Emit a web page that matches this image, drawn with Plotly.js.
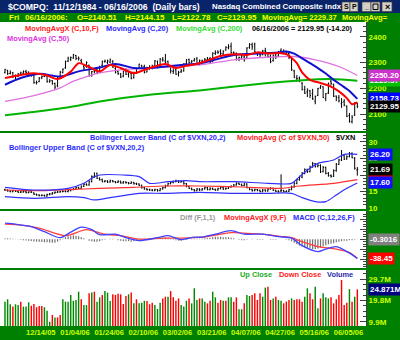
<!DOCTYPE html>
<html><head><meta charset="utf-8">
<script src="https://cdn.plot.ly/plotly-3.0.1.min.js"></script>
<style>html,body{margin:0;padding:0;background:#008000;}#chart{width:400px;height:340px;}</style>
</head><body><div id="chart"></div>
<script>
// ---------- DATA ----------
const dateTickIdx  = [8, 21, 34, 47, 60, 73, 86, 99, 112, 125];
const dateTickText = ['12/14/05','01/04/06','01/24/06','02/10/06','03/02/06','03/21/06','04/07/06','04/27/06','05/16/06','06/05/06'];

const priceOpen = [2262,2270,2258,2261,2249,2247,2257,2259,2265,2263,
2254,2250,2222,2226,2241,2246,2248,2226,2230,2219,
2210,2244,2262,2280,2306,2313,2318,2328,2316,2308,
2285,2285,2290,2250,2268,2272,2268,2290,2304,2300,
2302,2305,2278,2265,2256,2248,2268,2255,2258,2242,
2262,2279,2288,2285,2264,2280,2278,2290,2305,2286,
2310,2306,2305,2282,2266,2272,2256,2264,2268,2296,
2312,2302,2308,2315,2296,2306,2308,2312,2316,2304,
2336,2342,2345,2334,2350,2358,2364,2340,2336,2314,
2318,2322,2318,2360,2370,2372,2338,2334,2332,2346,
2338,2325,2308,2330,2326,2348,2344,2342,2336,2318,
2268,2240,2240,2220,2196,2186,2190,2180,2150,2172,
2202,2206,2160,2182,2228,2216,2170,2164,2140,2148,
2130,2094,2070,2096,2140.51];
const priceHigh = [2276,2272,2270,2264,2254,2260,2265,2270,2272,2266,
2258,2254,2230,2244,2250,2253,2254,2236,2232,2222,
2248,2268,2278,2308,2323,2324,2334,2330,2324,2315,
2293,2305,2292,2268,2277,2280,2288,2308,2312,2312,
2316,2310,2284,2270,2260,2268,2278,2268,2262,2265,
2280,2296,2292,2292,2284,2290,2292,2310,2308,2318,
2322,2334,2308,2286,2278,2278,2268,2276,2298,2314,
2316,2310,2318,2322,2312,2312,2318,2322,2322,2340,
2348,2348,2352,2348,2364,2372,2378,2344,2340,2324,
2332,2330,2360,2376,2378,2378,2342,2340,2350,2358,
2340,2332,2332,2336,2346,2356,2352,2346,2340,2320,
2272,2252,2246,2224,2210,2200,2194,2198,2172,2202,
2212,2208,2182,2222,2240,2218,2172,2174,2162,2158,
2134,2104,2096,2146,2144.15];
const priceLow = [2258,2252,2254,2240,2232,2244,2251,2255,2256,2246,
2245,2218,2215,2224,2236,2244,2222,2222,2214,2196,
2204,2242,2258,2276,2302,2306,2315,2310,2308,2296,
2270,2280,2246,2245,2258,2255,2264,2286,2300,2295,
2298,2280,2258,2252,2240,2243,2252,2242,2235,2238,
2256,2276,2275,2258,2262,2272,2274,2288,2278,2284,
2304,2298,2282,2258,2256,2253,2246,2260,2265,2290,
2296,2298,2304,2292,2290,2300,2304,2308,2298,2302,
2330,2334,2330,2326,2346,2352,2335,2330,2308,2306,
2312,2304,2316,2354,2350,2338,2326,2322,2328,2324,
2318,2298,2304,2314,2322,2338,2338,2332,2314,2268,
2240,2226,2224,2192,2178,2166,2162,2155,2138,2170,
2198,2162,2150,2178,2212,2166,2150,2145,2124,2130,
2088,2066,2063,2092,2122.78];
const priceClose = [2273,2257,2260,2247,2245,2256,2260,2265,2262,2253,
2252,2222,2222,2240,2246,2249,2227,2229,2219,2205,
2244,2263,2274,2305,2318,2320,2331,2317,2317,2302,
2279,2301,2248,2265,2266,2260,2283,2305,2306,2306,
2311,2282,2263,2258,2244,2266,2255,2262,2239,2262,
2276,2294,2282,2262,2279,2279,2287,2307,2281,2314,
2311,2302,2286,2268,2268,2255,2262,2267,2295,2311,
2300,2306,2314,2296,2309,2306,2313,2315,2302,2337,
2340,2340,2336,2345,2360,2362,2339,2337,2314,2320,
2326,2311,2357,2371,2362,2342,2333,2330,2345,2344,
2323,2304,2329,2324,2342,2343,2344,2339,2320,2272,
2243,2238,2229,2195,2181,2193,2172,2159,2168,2199,
2210,2164,2179,2220,2219,2169,2163,2151,2145,2135,
2091,2072,2087,2144,2129.95];

// moving averages at selected bars
const ma10Idx = [0,6,11,16,20,25,28,32,36,40,44,49,53,57,61,65,69,74,78,82,87,92,96,100,105,107,109,111,113,116,120,124,127,130,132,134];
const ma10    = [2240,2252,2259,2250,2236,2265,2298,2283,2266,2291,2279,2259,2272,2285,2295,2279,2288,2298,2312,2326,2333,2330,2340,2336,2337,2333,2318,2298,2262,2233,2221,2207,2188,2162,2138,2145];
const ma20Idx = [0,6,13,21,28,36,42,49,55,61,67,74,80,87,93,99,104,107,110,113,116,119,122,125,128,131,134];
const ma20    = [2214,2240,2257,2246,2266,2281,2295,2279,2279,2285,2291,2297,2312,2330,2334,2337,2340,2343,2335,2317,2298,2279,2258,2233,2212,2190,2158.73];
const ma50Idx = [0,11,21,26,30,36,44,55,65,74,87,100,110,118,127,134];
const ma50    = [2149,2172,2202,2228,2242,2260,2272,2279,2285,2291,2311,2321,2324,2311,2285,2250.20];
const ma200Idx = [0,23,36,55,74,100,112,124,134];
const ma200    = [2095,2124,2149,2175,2192,2221,2231,2236,2229.37];
const ma10Last = 2145.09;

const vxnOpen = [15.6,15.4,15.2,15.0,15.3,15.1,14.8,14.9,15.0,14.7,
14.9,14.6,14.2,14.0,13.8,13.9,13.7,14.1,14.3,14.6,
14.8,14.9,15.0,15.1,15.0,15.3,15.6,15.8,16.2,16.0,
16.6,17.2,17.0,18.0,19.5,20.5,19.0,18.6,18.0,18.2,
17.9,18.3,18.0,17.8,18.1,17.6,17.9,17.7,17.5,17.8,
17.4,17.3,16.9,16.2,15.8,15.6,15.5,15.4,15.6,15.3,
15.8,16.2,16.8,17.4,17.8,18.0,18.2,17.9,18.0,17.4,
16.6,16.0,15.6,15.3,15.8,15.5,15.8,16.2,15.6,16.0,
15.7,15.5,15.9,16.3,15.8,16.0,16.4,16.6,17.0,17.5,
17.2,16.8,17.3,16.2,15.7,15.3,15.6,15.4,15.0,15.5,
15.2,15.8,16.0,15.4,15.1,15.2,15.4,15.0,15.1,15.6,
16.4,17.5,18.6,19.4,20.5,21.6,21.0,22.4,23.4,22.6,
22.9,21.0,22.3,20.5,19.8,19.6,21.3,23.2,24.5,25.8,
24.8,25.5,26.5,25.0,21.5];
const vxnHigh = [15.9,15.7,15.5,15.6,15.5,15.3,15.2,15.3,15.2,15.1,
15.2,14.8,14.4,14.2,14.2,14.1,14.4,14.6,14.9,15.1,
15.2,15.3,15.4,15.4,15.6,15.9,16.1,16.5,16.5,16.9,
17.6,17.5,18.4,19.9,20.8,20.7,19.3,18.9,18.5,18.4,
18.6,18.5,18.2,18.4,18.3,18.2,18.1,17.9,18.1,17.9,
17.7,17.5,17.1,16.4,16.0,15.9,15.8,15.9,15.8,16.1,
16.5,17.1,17.7,18.1,18.3,18.6,18.4,18.3,18.2,17.6,
16.8,16.2,15.8,16.1,16.0,16.1,16.5,16.4,16.3,16.2,
15.9,16.2,16.6,16.5,16.3,16.7,16.9,17.3,17.8,17.7,
17.4,17.6,17.5,16.4,15.9,15.9,15.8,15.6,15.8,15.7,
16.1,16.3,16.2,15.6,15.4,20.2,15.5,15.4,15.9,16.8,
17.9,18.9,19.8,20.9,22.0,21.9,22.8,23.9,23.6,23.4,
23.2,22.7,22.5,20.9,20.2,21.7,23.6,24.9,27.5,26.0,
25.9,26.9,26.8,25.4,22.4];
const vxnLow = [15.2,15.0,14.8,14.8,14.9,14.6,14.6,14.7,14.5,14.5,
14.6,14.0,13.8,13.6,13.6,13.5,13.5,13.9,14.1,14.4,
14.6,14.7,14.8,14.8,14.8,15.1,15.4,15.6,15.8,15.8,
16.4,16.8,16.8,17.8,19.2,18.8,18.3,17.8,17.8,17.6,
17.7,17.8,17.5,17.6,17.4,17.4,17.4,17.2,17.3,17.1,
17.0,16.7,15.9,15.6,15.3,15.2,15.1,15.1,15.0,15.1,
15.6,16.0,16.6,17.2,17.5,17.8,17.6,17.7,17.1,16.3,
15.8,15.4,15.0,15.1,15.2,15.3,15.6,15.4,15.4,15.5,
15.2,15.3,15.7,15.5,15.6,15.8,16.2,16.4,16.8,17.0,
16.6,16.6,16.0,15.4,15.0,15.1,15.1,14.8,14.8,15.0,
15.0,15.6,15.2,14.9,14.7,14.8,14.8,14.8,14.9,15.4,
16.2,17.2,18.3,19.0,20.2,20.6,20.8,22.2,22.2,22.3,
20.6,20.8,20.2,19.5,19.2,19.4,21.0,23.0,24.2,24.5,
24.6,25.3,25.0,21.6,19.8];
const vxnClose = [15.4,15.2,15.0,15.3,15.1,14.8,14.9,15.0,14.7,14.9,
14.8,14.2,14.0,13.8,13.9,13.7,14.1,14.3,14.6,14.8,
14.9,15.0,15.1,15.0,15.3,15.6,15.8,16.2,16.0,16.6,
17.2,17.0,18.0,19.5,19.8,19.0,18.6,18.0,18.2,17.9,
18.3,18.0,17.8,18.1,17.6,17.9,17.7,17.5,17.8,17.4,
17.3,16.9,16.2,15.8,15.6,15.5,15.4,15.6,15.3,15.8,
16.2,16.8,17.4,17.8,18.0,18.2,17.9,18.0,17.4,16.6,
16.0,15.6,15.3,15.8,15.5,15.8,16.2,15.6,16.0,15.7,
15.5,15.9,16.3,15.8,16.0,16.4,16.6,17.0,17.5,17.2,
16.8,17.3,16.2,15.7,15.3,15.6,15.4,15.0,15.5,15.2,
15.8,16.0,15.4,15.1,15.0,15.4,15.0,15.1,15.6,16.4,
17.5,18.6,19.4,20.5,21.6,21.0,22.4,23.4,22.6,22.9,
21.0,22.3,20.5,19.8,19.6,21.3,23.2,24.5,25.8,24.8,
25.5,26.5,25.2,22.0,21.69];

const bbUpIdx = [0,11,24,30,33,36,45,51,55,62,69,74,87,100,109,112,116,119,125,129,134];
const bbUp    = [16.3,15.5,16.0,17.5,19.0,20.0,20.0,19.5,17.5,18.0,18.3,18.0,18.0,17.5,17.5,19.5,22.0,23.5,24.5,26.2,26.20];
const bbLoIdx = [0,11,24,30,34,40,45,51,61,74,87,100,109,113,118,122,126,130,134];
const bbLo    = [13.5,13.0,13.5,13.2,12.5,13.2,13.8,14.5,14.5,14.8,14.5,14.5,14.5,13.2,12.0,12.0,14.0,16.0,17.60];
const vxnMa50Idx = [0,11,24,36,49,61,74,90,105,112,125,134];
const vxnMa50    = [15.5,15.3,15.6,16.0,16.3,16.7,16.7,16.4,16.0,16.7,17.5,18.6];

const macdIdx = [0,4,10,15,21,25,29,33,36,42,46,51,58,62,67,72,75,80,86,91,98,104,109,113,119,122,126,131,134];
const macd    = [32,30,25,15,3,14,24,19,9,10,3,-3,3,7,-1,4,4,10,17,10,10,5,2,-13,-25,-20,-15,-28,-38.75];
const signalIdx = [0,6,13,23,31,38,44,51,60,67,75,86,91,98,104,109,113,119,126,131,134];
const signal    = [30,28,22,7,19,10,7,0,2,2,4,13,12,10,6,3,-5,-15,-20,-27,-38.45];
const macdDiff = [1.5,1.8,1.2,0.8,0.5,0.2,-1,-2,-2.5,-3,
-3.5,-4.5,-5,-5,-5.5,-6,-6,-6.5,-7,-7,
-5,-2,1,4,6,7,8,7,6,4,
2,0,-3,-4,-5,-5,-4,-2,-1,0,
1,1,0,-2,-3,-4,-4,-4,-5,-4,
-3,-2,-1,0,1,2,2,3,3,2,
3,4,3,1,-1,-2,-3,-3,-2,-1,
0,1,1,1,1,1,2,2,3,4,
5,5,5,4,4,4,3,2,0,-1,
-2,-2,-1,0,1,0,-1,-1,-1,0,
0,-1,-1,-1,0,0,0,-1,-2,-4,
-7,-10,-13,-15,-17,-18,-19,-20,-20,-19,
-17,-14,-12,-10,-9,-8,-6,-5,-4,-3,
-3,-2,-2,-1,-0.3016];

// volume in millions, and direction of each day's close (u = up close, d = down close)
const volume = [19.2,20.3,18.0,16.9,18.0,17.6,19.2,16.9,16.9,18.9,
17.3,18.1,16.6,17.2,17.2,16.6,15.0,9.9,13.0,11.9,
11.9,13.0,20.3,19.2,19.2,22.3,19.6,20.0,23.8,20.3,
17.6,17.6,23.1,23.4,23.8,19.2,21.2,22.3,24.1,23.4,
19.5,22.6,22.3,22.9,22.6,18.1,21.8,22.6,23.4,18.4,
20.3,18.4,18.7,19.6,19.5,18.0,18.7,17.6,15.8,18.7,
20.7,21.5,21.5,24.1,21.2,19.6,20.7,17.6,16.9,19.6,
20.7,18.4,25.4,20.0,20.7,20.7,19.2,18.4,19.6,23.8,
21.2,18.7,20.0,19.6,19.6,21.2,21.2,19.2,21.2,15.7,
15.7,18.4,22.3,21.8,22.3,23.1,20.0,23.1,21.5,25.7,
26.1,20.0,20.7,21.5,20.0,19.6,18.4,19.2,20.0,20.7,
20.0,20.3,20.3,19.2,21.5,25.4,23.1,20.3,26.1,16.1,
20.7,23.1,21.2,20.7,21.2,18.4,20.3,22.3,29.2,17.6,
18.7,25.0,19.2,21.5,24.871];
const volDir = 'uuuduuduuu' + 'ddddduuudu' + 'dduuuuuuud' + 'uududuuduu' + 'uddddddudu' +
               'duuuddduuu' + 'ddudddduuu' + 'duuud' +
               'uudduuddud' + 'uudduuduud' + 'ddduuddudu' + 'uddduddddu' + 'udduuduuud' + 'ddddddudud';

// ---------- DRAWING ----------
const FONT = 'Liberation Sans, Arial, sans-serif';
const AXC = '#ccff00';
const PR = 366, PT = 22, PB = 326;
const px = x => x / PR;
const py = y => (PB - y) / (PB - PT);

const barIdx = priceClose.map((_, i) => i);
const traces = [];
const blackBar = {line: {color: '#000000', width: 1}};
traces.push({type: 'ohlc', x: barIdx, open: priceOpen, high: priceHigh, low: priceLow, close: priceClose,
  xaxis: 'x', yaxis: 'y', increasing: blackBar, decreasing: blackBar, tickwidth: 0.35, hoverinfo: 'skip'});
function line(xs, ys, yax, color, width) {
  return {type: 'scatter', mode: 'lines', x: xs, y: ys, xaxis: 'x', yaxis: yax,
    line: {color: color, width: width, shape: 'spline', smoothing: 0.8}, hoverinfo: 'skip'};
}
traces.push(line(ma200Idx, ma200, 'y', '#00b400', 2));
traces.push(line(ma50Idx, ma50, 'y', '#e070e0', 1.3));
traces.push(line(ma20Idx, ma20, 'y', '#1010d0', 2));
traces.push(line(ma10Idx, ma10, 'y', '#ff0000', 2));

traces.push({type: 'ohlc', x: barIdx, open: vxnOpen, high: vxnHigh, low: vxnLow, close: vxnClose,
  xaxis: 'x', yaxis: 'y2', increasing: blackBar, decreasing: blackBar, tickwidth: 0.35, hoverinfo: 'skip'});
traces.push(line(vxnMa50Idx, vxnMa50, 'y2', '#ff3030', 1.2));
traces.push(line(bbUpIdx, bbUp, 'y2', '#3030ff', 1.2));
traces.push(line(bbLoIdx, bbLo, 'y2', '#3030ff', 1.2));

traces.push({type: 'bar', x: barIdx, y: macdDiff, xaxis: 'x', yaxis: 'y3', width: 0.45,
  marker: {color: '#707070', line: {width: 0}}, hoverinfo: 'skip'});
traces.push(line(signalIdx, signal, 'y3', '#ff4040', 1.3));
traces.push(line(macdIdx, macd, 'y3', '#4040ff', 1.3));

const upX = [], upY = [], dnX = [], dnY = [];
volDir.split('').forEach((d, i) => { if (d === 'u') { upX.push(i); upY.push(volume[i]); } else { dnX.push(i); dnY.push(volume[i]); } });
traces.push({type: 'bar', x: upX, y: upY, xaxis: 'x', yaxis: 'y4', width: 0.55, marker: {color: '#008a00', line: {width: 0}}, hoverinfo: 'skip'});
traces.push({type: 'bar', x: dnX, y: dnY, xaxis: 'x', yaxis: 'y4', width: 0.55, marker: {color: '#ff0000', line: {width: 0}}, hoverinfo: 'skip'});

function yax(domain, range, extra) {
  return Object.assign({domain: domain, range: range, side: 'right', anchor: 'x', showgrid: false, zeroline: false,
    showline: true, linecolor: '#404040', linewidth: 1, mirror: true, ticks: 'inside', ticklen: 6, tickwidth: 1,
    tickcolor: '#404040', tickfont: {family: FONT, size: 8, color: AXC, weight: 'bold'}, fixedrange: true}, extra);
}
const minor = (d) => ({dtick: d, ticks: 'inside', ticklen: 3, tickcolor: '#404040', showgrid: false});

const ann = [];
function txt(x, y, text, color, size, anchor, bold) {
  ann.push({xref: 'paper', yref: 'paper', x: px(x), y: py(y), xanchor: anchor || 'left', yanchor: 'middle',
    text: bold ? '<b>' + text + '</b>' : text, showarrow: false, font: {family: FONT, size: size, color: color}});
}
function box(yref, v, text, bg) {
  ann.push({xref: 'paper', x: px(368), xanchor: 'left', yref: yref, y: v, yanchor: 'middle', text: '<b>' + text + '</b>',
    showarrow: false, bgcolor: bg, borderpad: 1, font: {family: FONT, size: 8, color: '#ffffff'}});
}
const last = a => a[a.length - 1];

// header
txt(6, 7, '$COMPQ:  11/12/1984 - 06/16/2006  (Daily bars)', '#ffffff', 8.7, 'left', true);
txt(210, 7, 'Nasdaq Combined Composite Indx', '#ffffff', 7.8, 'left', true);
txt(346, 7, 'S', '#000', 7, 'center', true);
txt(354, 7, 'P', '#000', 7, 'center', true);
txt(366.5, 6, '_', '#000', 7, 'center', true);
txt(387, 7, '×', '#000', 9, 'center', true);
const Y = '#ffff00';
txt(7, 17.5, 'Fri', Y, 8, 'left', true);
txt(23, 17.5, '06/16/2006:', Y, 8, 'left', true);
txt(75, 17.5, 'O=' + priceOpen[134].toFixed(2), Y, 8, 'left', true);
txt(123, 17.5, 'H=' + priceHigh[134].toFixed(2), Y, 8, 'left', true);
txt(170, 17.5, 'L=' + priceLow[134].toFixed(2), Y, 8, 'left', true);
txt(215, 17.5, 'C=' + priceClose[134].toFixed(2), Y, 8, 'left', true);
txt(260, 17.5, 'MovingAvg= ' + last(ma200).toFixed(2), Y, 7.6, 'left', true);
txt(340, 17.5, 'MovingAvg=', Y, 7.6, 'left', true);

// panel legends
const LS = 7.4;
txt(23, 28, 'MovingAvgX (C,10,F)', '#ff2020', LS, 'left', true);
txt(104, 28, 'MovingAvg (C,20)', '#2a2aff', LS, 'left', true);
txt(174, 28, 'MovingAvg (C,200)', '#33dd33', LS, 'left', true);
txt(355, 28, '06/16/2006 = 2129.95 (-14.20)', '#000000', LS, 'right', true);
txt(5, 38, 'MovingAvg (C,50)', '#dd33dd', LS, 'left', true);

txt(88, 137, 'Bollinger Lower Band (C of $VXN,20,2)', '#2a2aff', LS, 'left', true);
txt(235, 137, 'MovingAvg (C of $VXN,50)', '#ff2020', LS, 'left', true);
txt(357, 137, '$VXN', '#000000', LS, 'right', true);
txt(7, 147, 'Bollinger Upper Band (C of $VXN,20,2)', '#2a2aff', LS, 'left', true);

txt(218, 217, 'Diff (F,1,1)', '#999999', LS, 'right', true);
txt(222, 217, 'MovingAvgX (9,F)', '#ff2020', LS, 'left', true);
txt(357, 217, 'MACD (C,12,26,F)', '#2a2aff', LS, 'right', true);

txt(238, 274, 'Up Close', '#22aa22', LS, 'left', true);
txt(277, 274, 'Down Close', '#ff2020', LS, 'left', true);
txt(355, 274, 'Volume', '#2a2aaa', LS, 'right', true);

// last-value boxes
box('y', last(ma200), last(ma200).toFixed(2), '#00c000');
box('y', last(ma50), last(ma50).toFixed(2), '#cc33cc');
box('y', ma10Last, ma10Last.toFixed(2), '#ff0000');
box('y', last(ma20), last(ma20).toFixed(2), '#0000ff');
box('y', last(priceClose), last(priceClose).toFixed(2), '#000000');
box('y2', last(vxnMa50), last(vxnMa50).toFixed(2), '#ff0000');
box('y2', last(bbUp), last(bbUp).toFixed(2), '#1010ff');
box('y2', last(vxnClose), last(vxnClose).toFixed(2), '#000000');
box('y2', last(bbLo), last(bbLo).toFixed(2), '#1010ff');
box('y3', last(macdDiff), last(macdDiff).toFixed(4), '#808080');
box('y3', last(signal), last(signal).toFixed(2), '#ff0000');
box('y4', last(volume), last(volume).toFixed(3) + 'M', '#000080');

const shapes = [
  {type: 'rect', xref: 'paper', yref: 'paper', x0: px(0), x1: px(400), y0: py(13), y1: py(0), fillcolor: '#0a246a', line: {width: 0}, layer: 'below'},
];
[[342, 350], [350, 358], [362, 371], [371, 380], [382, 392]].forEach(b => {
  shapes.push({type: 'rect', xref: 'paper', yref: 'paper', x0: px(b[0]), x1: px(b[1]), y0: py(11.5), y1: py(2),
    fillcolor: '#d4d0c8', line: {color: '#404040', width: 0.7}, layer: 'above'});
});
shapes.push({type: 'rect', xref: 'paper', yref: 'paper', x0: px(373), x1: px(378), y0: py(9.5), y1: py(4),
  fillcolor: 'rgba(0,0,0,0)', line: {color: '#000', width: 1}, layer: 'above'});

const layout = {
  width: 400, height: 340, margin: {l: 0, r: 34, t: 22, b: 14, pad: 0},
  paper_bgcolor: '#008000', plot_bgcolor: '#ffffff', showlegend: false, barmode: 'overlay',
  xaxis: {domain: [0, 1], range: [-1.9, 137.3], anchor: 'y4', tickmode: 'array', tickvals: dateTickIdx, ticktext: dateTickText,
    ticks: '', tickangle: 0, ticklabelposition: 'outside right', tickfont: {family: FONT, size: 7.6, color: AXC, weight: 'bold'},
    rangeslider: {visible: false}, showgrid: false, zeroline: false, showline: false, fixedrange: true},
  yaxis: yax([py(131), 1], [2033.8, 2458.4], {tick0: 0, dtick: 100, minor: minor(20)}),
  yaxis2: yax([py(209), py(133)], [9.79, 32.61], {tick0: 0, dtick: 5, minor: minor(1)}),
  yaxis3: yax([py(268), py(211)], [-57.9, 56.5], {tick0: 0, dtick: 20, showticklabels: false, minor: minor(5)}),
  yaxis4: yax([0, py(270)], [7.91, 33.87], {tickmode: 'array', tickvals: [9.9, 19.8, 29.7], ticktext: ['9.9M', '19.8M', '29.7M'], minor: {tickmode: 'linear', tick0: 0, dtick: 2.475, ticks: 'inside', ticklen: 3, tickcolor: '#404040'}}),
  annotations: ann, shapes: shapes
};
Plotly.newPlot('chart', traces, layout, {staticPlot: true, displayModeBar: false});
</script></body></html>
